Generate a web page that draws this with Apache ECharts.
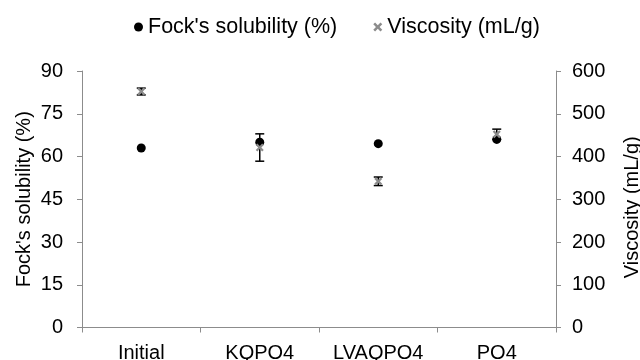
<!DOCTYPE html>
<html>
<head>
<meta charset="utf-8">
<script src="https://cdn.jsdelivr.net/npm/echarts@6/dist/echarts.min.js"></script>
<style>
  html, body { margin: 0; padding: 0; background: #fff; }
  #chart { width: 640px; height: 360px; }
</style>
</head>
<body>
<div id="chart"></div>
<script>
// Samples and measured values
const categories = ['Initial', 'KQPO4', 'LVAQPO4', 'PO4'];
const solubility = [63, 65, 64.5, 66];          // Fock's solubility, %
const viscosity = [552, 421, 342, 452];         // mL/g
const viscosityErr = [8, 32, 10, 12];           // ± mL/g
const leftTicks = { min: 0, max: 90, interval: 15 };
const rightTicks = { min: 0, max: 600, interval: 100 };

const FONT = 'Liberation Sans, Arial, sans-serif';
const AXIS_GRAY = '#8c8c8c';
const CROSS = 'path://M0,2L2,0L5,3L8,0L10,2L7,5L10,8L8,10L5,7L2,10L0,8L3,5Z';
const FS = 20;

const errData = categories.map((c, i) => [i, viscosity[i] - viscosityErr[i], viscosity[i] + viscosityErr[i]]);

const chart = echarts.init(document.getElementById('chart'));
chart.setOption({
  animation: false,
  textStyle: { fontFamily: FONT },
  legend: {
    top: 11,
    left: 129,
    itemGap: 36,
    itemWidth: 9,
    itemHeight: 9,
    textStyle: { fontSize: 21.5, color: '#000', fontFamily: FONT },
    data: [
      { name: "Fock's solubility (%)", icon: 'circle', itemStyle: { color: '#000', opacity: 1 } },
      { name: 'Viscosity (mL/g)', icon: CROSS, itemStyle: { color: '#8c8c8c', opacity: 1 } }
    ]
  },
  grid: { left: 82, right: 84, top: 71, bottom: 32.5, outerBoundsMode: 'none', containLabel: false },
  xAxis: {
    type: 'category',
    data: categories,
    axisLine: { lineStyle: { color: AXIS_GRAY, width: 1 } },
    axisTick: { show: true, interval: 0, length: 5, lineStyle: { color: AXIS_GRAY } },
    axisLabel: { interval: 0, color: '#000', fontSize: FS, margin: 16, fontFamily: FONT }
  },
  yAxis: [
    {
      type: 'value',
      min: leftTicks.min, max: leftTicks.max, interval: leftTicks.interval,
      name: "Fock's solubility (%)",
      nameLocation: 'middle',
      nameGap: 48,
      nameMoveOverlap: false,
      nameTextStyle: { fontSize: FS, color: '#000', fontFamily: FONT },
      splitLine: { show: false },
      axisLine: { show: true, lineStyle: { color: AXIS_GRAY } },
      axisTick: { show: true, length: 5, lineStyle: { color: AXIS_GRAY } },
      axisLabel: { color: '#000', fontSize: FS, margin: 19, fontFamily: FONT }
    },
    {
      type: 'value',
      position: 'right',
      min: rightTicks.min, max: rightTicks.max, interval: rightTicks.interval,
      name: 'Viscosity (mL/g)',
      nameLocation: 'middle',
      nameGap: 66,
      nameRotate: 90,
      nameTextStyle: { fontSize: FS, color: '#000', fontFamily: FONT, padding: [0, 16, 0, 0] },
      splitLine: { show: false },
      axisLine: { show: true, lineStyle: { color: AXIS_GRAY } },
      axisTick: { show: true, length: 5, lineStyle: { color: AXIS_GRAY } },
      axisLabel: { color: '#000', fontSize: FS, margin: 16, fontFamily: FONT }
    }
  ],
  series: [
    {
      name: "Fock's solubility (%)",
      type: 'scatter',
      yAxisIndex: 0,
      data: solubility,
      symbol: 'circle',
      symbolSize: 9,
      itemStyle: { color: '#000', opacity: 1 },
      z: 2
    },
    {
      name: 'Viscosity error',
      type: 'custom',
      yAxisIndex: 1,
      data: errData,
      z: 3,
      renderItem: function (params, api) {
        const x = api.coord([api.value(0), api.value(1)])[0];
        const yLo = api.coord([api.value(0), api.value(1)])[1];
        const yHi = api.coord([api.value(0), api.value(2)])[1];
        const hw = 4.5;
        const style = { stroke: '#000', lineWidth: 1.5 };
        return {
          type: 'group',
          children: [
            { type: 'line', shape: { x1: x, y1: yLo, x2: x, y2: yHi }, style: style },
            { type: 'line', shape: { x1: x - hw, y1: yLo, x2: x + hw, y2: yLo }, style: style },
            { type: 'line', shape: { x1: x - hw, y1: yHi, x2: x + hw, y2: yHi }, style: style }
          ]
        };
      }
    },
    {
      name: 'Viscosity (mL/g)',
      type: 'scatter',
      yAxisIndex: 1,
      data: viscosity,
      symbol: CROSS,
      symbolSize: 8,
      itemStyle: { color: '#8c8c8c', opacity: 1 },
      z: 4
    }
  ]
});
</script>
</body>
</html>
